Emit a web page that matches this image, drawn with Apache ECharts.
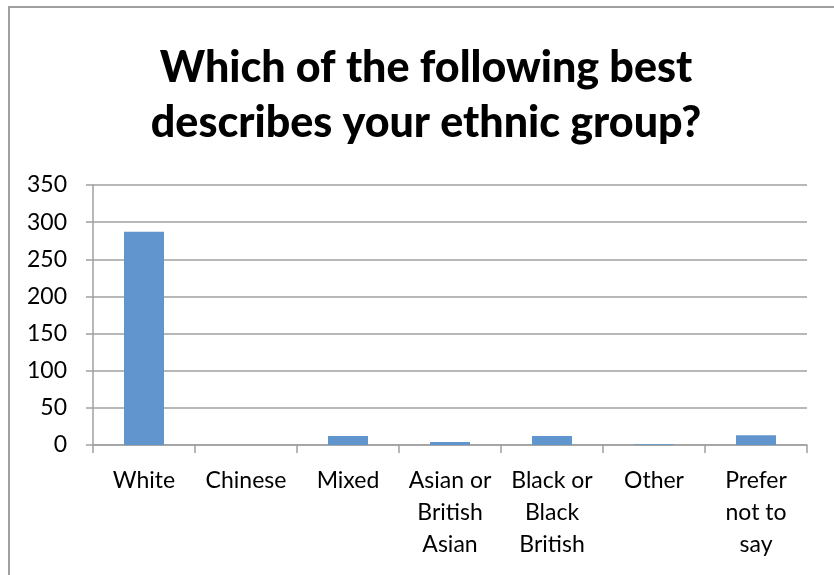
<!DOCTYPE html>
<html>
<head>
<meta charset="utf-8">
<script src="https://cdn.jsdelivr.net/npm/echarts@6/dist/echarts.min.js"></script>
<style>html,body{margin:0;padding:0;background:#fff;}#c{width:834px;height:575px;}</style>
</head>
<body>
<div id="c"></div>
<script>
const titleText = 'Which of the following best\ndescribes your ethnic group?';
const categories = ['White', 'Chinese', 'Mixed', 'Asian or\nBritish\nAsian', 'Black or\nBlack\nBritish', 'Other', 'Prefer\nnot to\nsay'];
const values = [287, 0, 12, 4, 12, 1, 13];
const yMin = 0, yMax = 350, yStep = 50;

const chart = echarts.init(document.getElementById('c'), null, {renderer: 'canvas'});
chart.setOption({
  animation: false,
  backgroundColor: '#ffffff',
  textStyle: {fontFamily: 'Lato'},
  graphic: [{
    type: 'rect', z: 0,
    shape: {x: 9, y: 7, width: 900, height: 700},
    style: {fill: 'none', stroke: '#9f9f9f', lineWidth: 2}
  }],
  title: {
    text: titleText, left: 421, textAlign: 'center', top: 36,
    textStyle: {fontFamily: 'Lato', fontWeight: 900, fontSize: 43, lineHeight: 55, color: '#000'}
  },
  grid: {left: 93, right: 27, top: 185, bottom: 130, containLabel: false},
  xAxis: {
    type: 'category', data: categories,
    axisLine: {lineStyle: {color: '#a0a0a0', width: 1.5}},
    axisTick: {show: true, length: 8, lineStyle: {color: '#a0a0a0', width: 1.5}, alignWithLabel: false},
    axisLabel: {color: '#000', fontSize: 23, lineHeight: 32, margin: 20, interval: 0, fontFamily: 'Lato'}
  },
  yAxis: {
    type: 'value', min: yMin, max: yMax, interval: yStep,
    axisLine: {show: true, lineStyle: {color: '#a0a0a0', width: 1.5}},
    axisTick: {show: true, length: 7, lineStyle: {color: '#a0a0a0', width: 1.5}},
    splitLine: {lineStyle: {color: '#a0a0a0', width: 1.5}},
    axisLabel: {color: '#000', fontSize: 23, margin: 26, fontFamily: 'Lato'}
  },
  series: [{
    type: 'bar', data: values, barWidth: 40,
    itemStyle: {color: '#6096cd'}
  }]
});
</script>
</body>
</html>
